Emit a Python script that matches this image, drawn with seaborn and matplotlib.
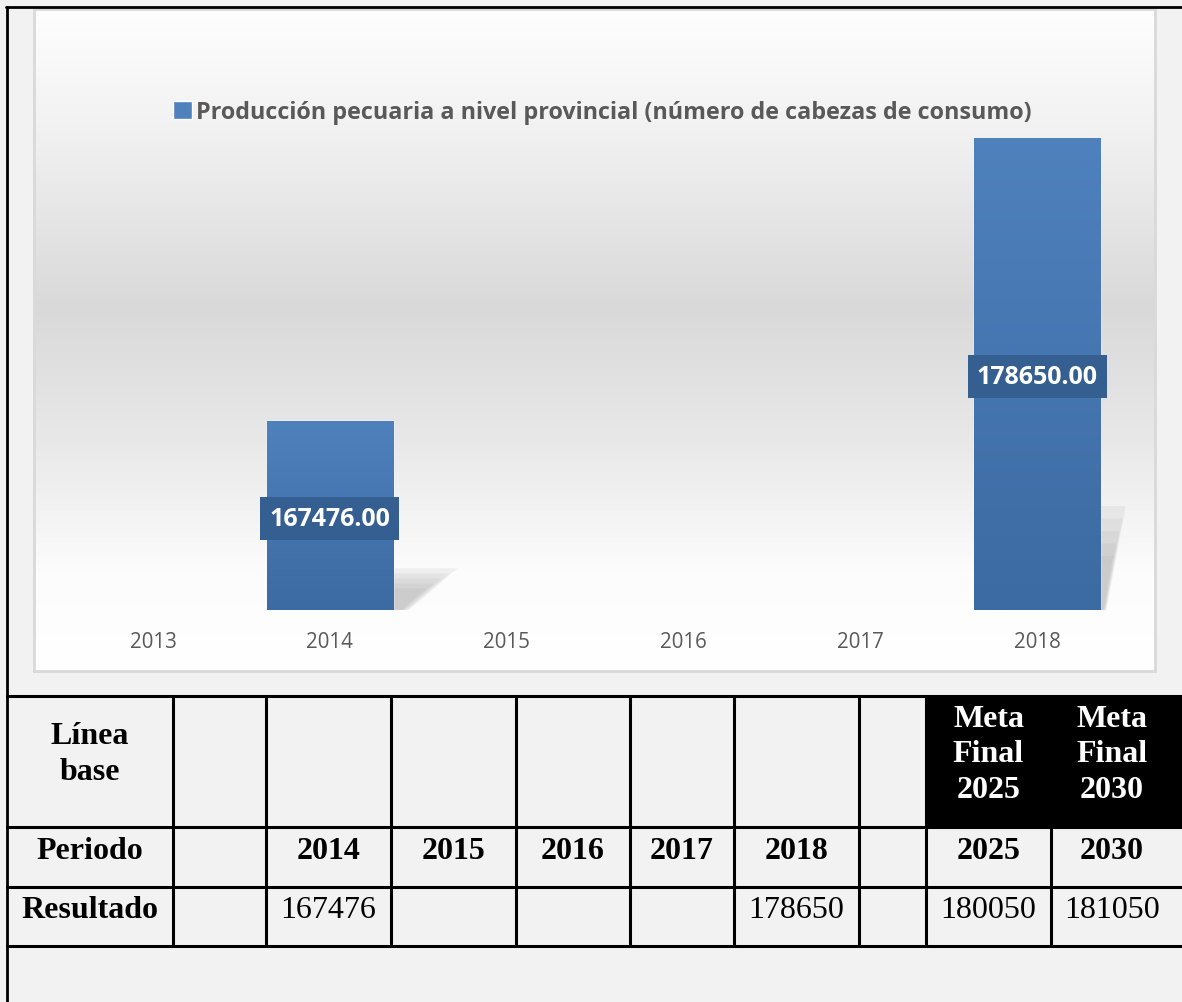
import matplotlib
matplotlib.use("Agg")
import matplotlib.pyplot as plt
import numpy as np
import pandas as pd
import seaborn as sns
from matplotlib.colors import LinearSegmentedColormap
from matplotlib.patches import Patch, Polygon, Rectangle

# --- data -------------------------------------------------------------
axis_years = ["2013", "2014", "2015", "2016", "2017", "2018"]
bar_years = ["2014", "2018"]
bar_values = [167476.00, 178650.00]
legend_label = "Producción pecuaria a nivel provincial (número de cabezas de consumo)"
y_range = (160000, 180000)

row_header_lines = ["Línea", "base"]
meta_headers = [["Meta", "Final", "2025"], ["Meta", "Final", "2030"]]
periodo_row = ["Periodo", "", "2014", "2015", "2016", "2017", "2018", "", "2025", "2030"]
resultado_row = ["Resultado", "", "167476", "", "", "", "178650", "", "180050", "181050"]

# --- layout (pixels of the 1182x1003 canvas) --------------------------
W, H = 1182, 1003
col_edges = [7, 173, 266, 391, 516, 630, 734, 859, 926, 1051, 1190]
row_edges = [697, 828, 888, 947]

sns.set_theme(style="white")
plt.rcParams["font.family"] = ["Open Sans", "DejaVu Sans"]

fig = plt.figure(figsize=(W / 100, H / 100), dpi=100, facecolor="#f2f2f2")


def fig_rect(x0, y0, x1, y1):
    return [x0 / W, 1 - y1 / H, (x1 - x0) / W, (y1 - y0) / H]


# chart box with soft grey gradient
ax_bg = fig.add_axes(fig_rect(34, 10, 1155, 672))
bg_cmap = LinearSegmentedColormap.from_list(
    "bg", [(0.0, "#fefefe"), (0.2, "#f0f0f0"), (0.45, "#d9d9d9"),
           (0.65, "#e8e8e8"), (0.85, "#fcfcfc"), (1.0, "#ffffff")])
ax_bg.imshow(np.linspace(0, 1, 256)[:, None], cmap=bg_cmap, aspect="auto",
             extent=[0, 1, 0, 1], origin="upper")
ax_bg.set_xticks([])
ax_bg.set_yticks([])
for sp in ax_bg.spines.values():
    sp.set_color("#d9d9d9")
    sp.set_linewidth(2)

# bar plot
ax = fig.add_axes(fig_rect(64.6, 104.4, 1125.4, 611), facecolor="none")
df = pd.DataFrame({"year": bar_years, "value": bar_values})
sns.barplot(data=df, x="year", y="value", order=axis_years, width=0.713,
            color="#4f81bd", errorbar=None, saturation=1, ax=ax, zorder=3)
ax.set_ylim(*y_range)
ax.set_xlim(-0.5, len(axis_years) - 0.5)

bar_cmap = LinearSegmentedColormap.from_list("bar", ["#3c6aa2", "#4f81bd"])
ylo = y_range[0]
for p in list(ax.patches):
    x0, w = p.get_x(), p.get_width()
    top = p.get_y() + p.get_height()
    ctr = x0 + w / 2
    pos = int(round(ctr))
    # perspective-like shadow to the right of each bar
    s = 0.22 * (top - ylo)
    dx = 0.42 - 0.055 * pos
    for k in range(5):
        f = 1 - 0.12 * k
        shadow = Polygon([(x0 + w, ylo), (x0 + w, ylo + s * f),
                          (x0 + w + dx * f, ylo + s * f), (x0 + w + dx * 0.25 * f, ylo)],
                         closed=True, facecolor="#a8a8a8", edgecolor="none",
                         alpha=0.15, zorder=2)
        ax.add_patch(shadow)
    im = ax.imshow(np.linspace(0, 1, 256)[:, None], cmap=bar_cmap, aspect="auto",
                   extent=[x0, x0 + w, ylo, top], origin="lower", zorder=3.5)
    im.set_clip_path(p)
    ax.text(ctr, (ylo + top) / 2 - 120, f"{top:.2f}", ha="center", va="center",
            color="white", fontsize=18, fontweight="bold", zorder=5,
            bbox=dict(boxstyle="square,pad=0.36", facecolor="#365f91", edgecolor="none"))

ax.set_ylim(*y_range)
ax.set_xlim(-0.5, len(axis_years) - 0.5)
ax.set_xlabel("")
ax.set_ylabel("")
ax.set_yticks([])
ax.tick_params(axis="x", length=0, labelsize=14.8, labelcolor="#595959", pad=15)
sns.despine(ax=ax, left=True, bottom=True)

fig.legend(handles=[Patch(facecolor="#4f81bd", label=legend_label)],
           loc="center", bbox_to_anchor=(602 / W, 1 - 113 / H), frameon=False,
           handlelength=0.85, handleheight=0.85, handletextpad=0.15,
           prop={"family": ["Open Sans", "DejaVu Sans"], "weight": "bold", "size": 16.8},
           labelcolor="#595959")

# --- table ------------------------------------------------------------
tb = fig.add_axes([0, 0, 1, 1], facecolor="none")
tb.set_xlim(0, W)
tb.set_ylim(H, 0)
tb.axis("off")

# outer frame
tb.plot([6, W], [8, 8], color="black", lw=2)
tb.plot([7, 7], [8, H], color="black", lw=2)

# black meta cells
tb.add_patch(Rectangle((col_edges[8], row_edges[0]), W - col_edges[8],
                       row_edges[1] - row_edges[0], facecolor="black", edgecolor="none"))
for y in row_edges:
    tb.plot([col_edges[0], W], [y, y], color="black", lw=2.2)
for x in col_edges[1:-1]:
    tb.plot([x, x], [row_edges[0], row_edges[-1]], color="black", lw=2.2)

serif = ["Liberation Serif", "DejaVu Serif"]
centers = [(a + b) / 2 for a, b in zip(col_edges[:-1], col_edges[1:])]
centers[-1] = 1112

for j, line in enumerate(row_header_lines):
    tb.text(centers[0], 744 + 36 * j, line, ha="center", va="baseline",
            family=serif, fontsize=23, fontweight="bold", color="black")
for c, lines in zip([8, 9], meta_headers):
    for j, line in enumerate(lines):
        tb.text(centers[c], 727 + 35.5 * j, line, ha="center", va="baseline",
                family=serif, fontsize=23, fontweight="bold", color="white")
for c, txt in enumerate(periodo_row):
    tb.text(centers[c], 859, txt, ha="center", va="baseline",
            family=serif, fontsize=23, fontweight="bold", color="black")
for c, txt in enumerate(resultado_row):
    tb.text(centers[c], 918, txt, ha="center", va="baseline", family=serif,
            fontsize=23, fontweight="bold" if c == 0 else "normal", color="black")

fig.savefig("out.png", dpi=100, facecolor=fig.get_facecolor())
